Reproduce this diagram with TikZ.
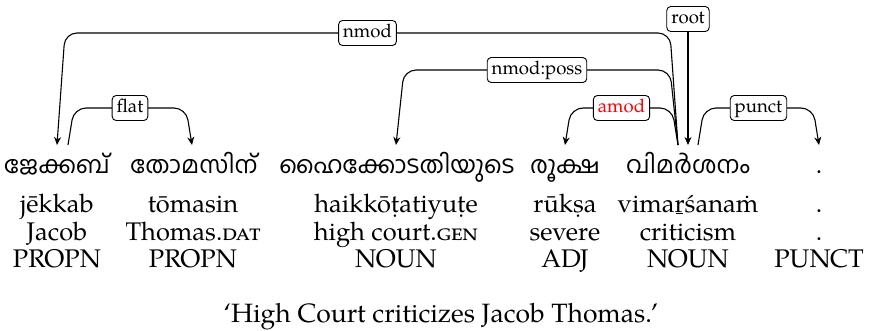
\documentclass[tikz,border=0pt]{standalone}
\usepackage{fontspec}
\setmainfont{TeX Gyre Pagella}
\newfontfamily\mlfont[Script=Malayalam]{Hind Kochi}
\usetikzlibrary{arrows.meta,calc}
\newcommand\mdotabove{{\accent"02D9 m}}
\newcommand\rlinebelow{\leavevmode\hbox{\ooalign{r\cr\hidewidth\rule[-0.17ex]{0.28em}{0.055em}\hidewidth\cr}}}
\begin{document}
\begin{tikzpicture}[x=1pt,y=-1pt,
  every node/.style={inner sep=0pt, outer sep=0pt},
  mlword/.style={anchor=base, font=\mlfont\fontsize{24}{28}\selectfont},
  gl/.style={anchor=base, font=\fontsize{25.5}{30}\selectfont},
  lab/.style={draw, fill=white, rounded corners=4pt, inner xsep=4.5pt, inner ysep=4pt,
    text height=13pt, text depth=4pt, font=\fontsize{18.6}{22}\selectfont, line width=0.9pt},
  dep/.style={line width=1.1pt, rounded corners=12pt, -{Stealth[length=8pt,width=7pt,inset=2.5pt]}},
]
\useasboundingbox (0,0) rectangle (871,330);
% Malayalam row
\node[mlword] (m1) at (57,173) {ജേക്കബ്};
\node[mlword] (m2) at (194,173) {തോമസിന്};
\node[mlword] (m3) at (397,173) {ഹൈക്കോടതിയുടെ};
\node[mlword] (m4) at (565,173) {രൂക്ഷ};
\node[mlword] (m5) at (688,173) {വിമർശനം};
\node[gl] (m6) at (819,173) {.};
% transliteration
\node[gl] (t1) at (57,212) {jēkkab};
\node[gl] (t2) at (193,212) {tōmasin};
\node[gl] (t3) at (396,212) {haikkōṭatiyuṭe};
\node[gl] (t4) at (565,212) {rūkṣa};
\node[gl] (t5) at (688,212) {vima\rlinebelow śana\mdotabove};
\node[gl] (t6) at (819,212) {.};
% gloss
\node[gl] (g1) at (57,240) {Jacob};
\node[gl] (g2) at (193,240) {Thomas.\textsc{dat}};
\node[gl] (g3) at (396,240) {high court.\textsc{gen}};
\node[gl] (g4) at (565,240) {severe};
\node[gl] (g5) at (688,240) {criticism};
\node[gl] (g6) at (819,240) {.};
% POS
\node[gl] (p1) at (57,267) {PROPN};
\node[gl] (p2) at (193,267) {PROPN};
\node[gl] (p3) at (396,267) {NOUN};
\node[gl] (p4) at (565,267) {ADJ};
\node[gl] (p5) at (688,267) {NOUN};
\node[gl] (p6) at (819,267) {PUNCT};
% translation
\node[gl, font=\fontsize{26.5}{30}\selectfont] (tr) at (441,322) {‘High Court criticizes Jacob Thomas.’};
% attachment points
\coordinate (a1) at (57,145);
\coordinate (a1r) at (68,145);
\coordinate (a2) at (192,145);
\coordinate (a3) at (396,145);
\coordinate (a4) at (565,145);
\coordinate (a5l) at (678,145);
\coordinate (a5) at (688,145);
\coordinate (a5r) at (698,145);
\coordinate (a6) at (819,145);
% edges
\draw[dep] (a1r) -- ++(6,-37) -- node[lab]{flat} ($(a2)+(-6,-37)$) -- (a2);
\draw[dep] (a5l) -- ++(-8,-112) -- node[lab]{nmod} ($(a1)+(8,-112)$) -- (a1);
\draw[dep] (a5l) -- ++(-8,-75) -- node[lab]{nmod:poss} ($(a3)+(8,-75)$) -- (a3);
\draw[dep] (a5l) -- ++(-6,-37) -- node[lab,text=red]{amod} ($(a4)+(6,-37)$) -- (a4);
\draw[dep] (a5r) -- ++(6,-37) -- node[lab]{punct} ($(a6)+(-6,-37)$) -- (a6);
\node[lab] (root) at (688,19) {root};
\draw[dep] (root) -- (a5);
\end{tikzpicture}
\end{document}
